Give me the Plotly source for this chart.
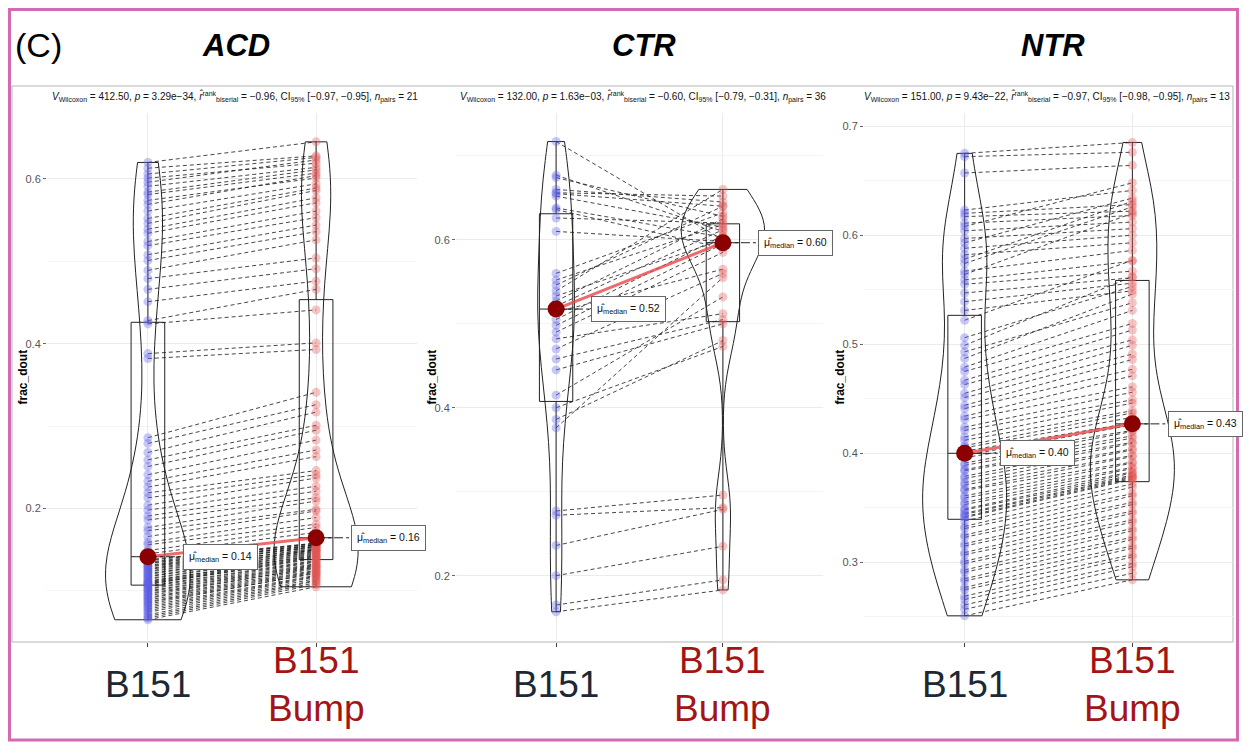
import numpy as np
import plotly.graph_objects as go

# ---------------------------------------------------------------- data
groups = ["B151", "B151 Bump"]
panels = ["ACD", "CTR", "NTR"]

acd_b151 = [
    0.620, 0.613, 0.606, 0.601, 0.596, 0.591, 0.584, 0.581, 0.574, 0.569, 0.561, 0.552,
    0.546, 0.539, 0.534, 0.524, 0.519, 0.508, 0.501, 0.489, 0.479, 0.466, 0.451, 0.428,
    0.424, 0.388, 0.382,
    0.286, 0.279, 0.268, 0.259, 0.251, 0.241, 0.233, 0.226, 0.219, 0.213, 0.204, 0.198,
    0.191, 0.186, 0.177, 0.173, 0.166, 0.159, 0.156, 0.149, 0.145,
    0.138, 0.137, 0.135, 0.134, 0.133, 0.131, 0.130, 0.129, 0.127, 0.126, 0.124, 0.123,
    0.121, 0.120, 0.118, 0.117, 0.115, 0.114, 0.112, 0.111, 0.110, 0.109, 0.108, 0.108,
    0.106, 0.105, 0.103, 0.102, 0.100, 0.099, 0.097, 0.096, 0.094, 0.092, 0.091, 0.089,
    0.087, 0.086, 0.084, 0.082, 0.080, 0.078, 0.076, 0.074, 0.071, 0.069, 0.067, 0.065,
]
acd_bump = [
    0.645, 0.628, 0.626, 0.619, 0.623, 0.614, 0.611, 0.607, 0.601, 0.604, 0.594, 0.589,
    0.586, 0.577, 0.571, 0.561, 0.553, 0.544, 0.536, 0.526, 0.504, 0.491, 0.476, 0.466,
    0.441, 0.401, 0.393,
    0.341, 0.326, 0.317, 0.301, 0.295, 0.283, 0.271, 0.263, 0.246, 0.241, 0.237, 0.227,
    0.221, 0.213, 0.209, 0.199, 0.197, 0.189, 0.181, 0.177, 0.171,
    0.158, 0.157, 0.158, 0.156, 0.155, 0.156, 0.154, 0.153, 0.154, 0.151, 0.152, 0.150,
    0.149, 0.150, 0.147, 0.148, 0.146, 0.145, 0.143, 0.144, 0.142, 0.141, 0.139, 0.140,
    0.137, 0.136, 0.135, 0.133, 0.132, 0.131, 0.130, 0.128, 0.129, 0.127, 0.125, 0.124,
    0.123, 0.121, 0.122, 0.119, 0.118, 0.117, 0.115, 0.113, 0.112, 0.110, 0.108, 0.105,
]

ctr_b151 = [
    0.277, 0.272, 0.236, 0.200, 0.165, 0.157,
    0.415, 0.400, 0.386, 0.376,
    0.717, 0.677, 0.674, 0.660, 0.656, 0.655, 0.652, 0.638, 0.636, 0.626, 0.610,
    0.445, 0.458, 0.470, 0.482, 0.490, 0.498, 0.505, 0.514, 0.521, 0.527, 0.533, 0.539,
    0.546, 0.552, 0.560,
]
ctr_bump = [
    0.296, 0.281, 0.279, 0.235, 0.195, 0.183,
    0.532, 0.473, 0.480, 0.555,
    0.600, 0.610, 0.628, 0.645, 0.652, 0.640, 0.615, 0.603, 0.590, 0.620, 0.598,
    0.500, 0.505, 0.560, 0.512, 0.585, 0.595, 0.605, 0.565, 0.612, 0.625, 0.600, 0.660,
    0.640, 0.618, 0.632,
]

ntr_b151 = [
    0.675, 0.672, 0.657, 0.623, 0.620, 0.617, 0.611, 0.608, 0.604, 0.597, 0.593, 0.588,
    0.582, 0.578, 0.574, 0.567, 0.564, 0.559, 0.555, 0.547, 0.539, 0.531,
    0.522, 0.506, 0.499, 0.493, 0.487, 0.479, 0.475, 0.467, 0.463, 0.455, 0.451, 0.444,
    0.441, 0.434, 0.431, 0.424, 0.421, 0.415, 0.412, 0.407, 0.405, 0.402,
    0.398, 0.396, 0.391, 0.389, 0.385, 0.384, 0.379, 0.377, 0.373, 0.371, 0.367, 0.366,
    0.361, 0.359, 0.355, 0.353, 0.349, 0.348, 0.345, 0.344, 0.342, 0.341,
    0.338, 0.333, 0.331, 0.325, 0.323, 0.317, 0.315, 0.309, 0.307, 0.301, 0.299, 0.293,
    0.291, 0.285, 0.283, 0.277, 0.275, 0.269, 0.266, 0.261, 0.257, 0.251,
]
ntr_bump = [
    0.685, 0.676, 0.664, 0.641, 0.628, 0.622, 0.618, 0.648, 0.612, 0.606, 0.634, 0.600,
    0.593, 0.631, 0.626, 0.586, 0.620, 0.576, 0.567, 0.561, 0.556, 0.549,
    0.577, 0.553, 0.562, 0.538, 0.546, 0.531, 0.519, 0.513, 0.504, 0.499, 0.491, 0.486,
    0.477, 0.471, 0.461, 0.456, 0.449, 0.446, 0.439, 0.437, 0.433, 0.428,
    0.426, 0.421, 0.420, 0.416, 0.414, 0.410, 0.409, 0.404, 0.403, 0.398, 0.397, 0.392,
    0.391, 0.387, 0.386, 0.383, 0.382, 0.380, 0.379, 0.378, 0.377, 0.376,
    0.372, 0.369, 0.363, 0.361, 0.355, 0.353, 0.347, 0.345, 0.339, 0.337, 0.331, 0.329,
    0.323, 0.321, 0.315, 0.313, 0.307, 0.305, 0.299, 0.296, 0.290, 0.284,
]

subtitles = [
    "<i>V</i><sub>Wilcoxon</sub> = 412.50, <i>p</i> = 3.29e−34, <i>r̂</i><sup>rank</sup><sub>biserial</sub> = −0.96, CI<sub>95%</sub> [−0.97, −0.95], <i>n</i><sub>pairs</sub> = 21",
    "<i>V</i><sub>Wilcoxon</sub> = 132.00, <i>p</i> = 1.63e−03, <i>r̂</i><sup>rank</sup><sub>biserial</sub> = −0.60, CI<sub>95%</sub> [−0.79, −0.31], <i>n</i><sub>pairs</sub> = 36",
    "<i>V</i><sub>Wilcoxon</sub> = 151.00, <i>p</i> = 9.43e−22, <i>r̂</i><sup>rank</sup><sub>biserial</sub> = −0.97, CI<sub>95%</sub> [−0.98, −0.95], <i>n</i><sub>pairs</sub> = 13",
]

# ---------------------------------------------------------------- styling / layout
y_ranges = [[0.038, 0.680], [0.121, 0.751], [0.227, 0.712]]
y_dticks = [(0.2, 0.1), (0.2, 0.1), (0.1, 0.05)]
violin_widths = [(0.5, 0.5), (0.22, 0.5), (0.5, 0.5)]

W, H = 1243, 747
SANS = "Liberation Sans, Arial, sans-serif"


def fx(px):
    return px / W


def fy(px):
    return 1 - px / H


x_domains = [(47, 417), (456, 823), (864, 1233)]
y_domain = [fy(642), fy(113)]

fig = go.Figure()
annotations = []

datasets = [(acd_b151, acd_bump), (ctr_b151, ctr_bump), (ntr_b151, ntr_bump)]
pos = [1, 2]
pt_colors = ["rgba(95,95,235,0.35)", "rgba(225,85,85,0.35)"]


def nrd0(v):
    v = np.asarray(v)
    iqr = np.subtract(*np.percentile(v, [75, 25]))
    return 0.9 * min(v.std(ddof=1), iqr / 1.34) * len(v) ** -0.2


for k, (name, (a, b)) in enumerate(zip(panels, datasets)):
    sfx = "" if k == 0 else str(k + 1)
    xa, ya = "x" + sfx, "y" + sfx
    vals = [a, b]

    # violins (trimmed to the data range)
    for g in range(2):
        fig.add_trace(go.Violin(
            x0=pos[g], y=vals[g], orientation="v", width=violin_widths[k][g],
            scalegroup=name, scalemode="width", spanmode="hard",
            bandwidth=nrd0(vals[g]), points=False,
            box_visible=False, meanline_visible=False,
            line=dict(color="#222222", width=1), fillcolor="rgba(0,0,0,0)",
            xaxis=xa, yaxis=ya, hoverinfo="skip", showlegend=False,
        ))
    # boxes
    for g in range(2):
        fig.add_trace(go.Box(
            x0=pos[g], y=vals[g], width=0.2, boxpoints=False, whiskerwidth=0,
            quartilemethod="inclusive",
            line=dict(color="#222222", width=1), fillcolor="rgba(0,0,0,0)",
            xaxis=xa, yaxis=ya, hoverinfo="skip", showlegend=False,
        ))
    # paired dashed lines
    lx, ly = [], []
    for u, v in zip(a, b):
        lx += [pos[0], pos[1], None]
        ly += [u, v, None]
    fig.add_trace(go.Scatter(
        x=lx, y=ly, mode="lines",
        line=dict(color="rgba(25,25,25,0.8)", width=1, dash="4px,3px"),
        xaxis=xa, yaxis=ya, hoverinfo="skip", showlegend=False,
    ))
    # points
    for g in range(2):
        fig.add_trace(go.Scatter(
            x=[pos[g]] * len(vals[g]), y=vals[g], mode="markers",
            marker=dict(size=9, color=pt_colors[g], line=dict(width=0)),
            xaxis=xa, yaxis=ya, hoverinfo="skip", showlegend=False,
        ))
    # medians
    med = [float(np.median(v)) for v in vals]
    fig.add_trace(go.Scatter(
        x=pos, y=med, mode="lines",
        line=dict(color="rgba(235,70,70,0.8)", width=3),
        xaxis=xa, yaxis=ya, hoverinfo="skip", showlegend=False,
    ))
    for g in range(2):
        fig.add_trace(go.Scatter(
            x=[pos[g], pos[g] + 0.21], y=[med[g], med[g]], mode="lines",
            line=dict(color="#222222", width=1, dash="dashdot"),
            xaxis=xa, yaxis=ya, hoverinfo="skip", showlegend=False,
        ))
        annotations.append(dict(
            x=pos[g] + 0.21, y=med[g], xref=xa, yref=ya, xanchor="left", yanchor="middle",
            text=f"μ̂<sub>median</sub> = {med[g]:.2f}", showarrow=False,
            font=dict(family=SANS, size=10.5, color="#111111"),
            bgcolor="white", bordercolor="#666666", borderwidth=1, borderpad=5,
        ))
    fig.add_trace(go.Scatter(
        x=pos, y=med, mode="markers",
        marker=dict(size=17, color="#8b0000", line=dict(width=0)),
        xaxis=xa, yaxis=ya, hoverinfo="skip", showlegend=False,
    ))

    # axes
    x0, x1 = x_domains[k]
    dt, mdt = y_dticks[k]
    fig.update_layout({
        "xaxis" + sfx: dict(
            domain=[fx(x0), fx(x1)], range=[0.4, 2.6], anchor=ya,
            tickvals=pos, showticklabels=False, ticks="outside", ticklen=4,
            tickcolor="#444444", showgrid=True, gridcolor="#ebebeb", gridwidth=1,
            zeroline=False, showline=False, fixedrange=True,
        ),
        "yaxis" + sfx: dict(
            domain=y_domain, range=y_ranges[k], anchor=xa,
            tick0=0, dtick=dt, tickformat=".1f", ticks="outside", ticklen=3,
            tickcolor="#666666", tickfont=dict(family=SANS, size=11, color="#555555"),
            showgrid=True, gridcolor="#ebebeb", gridwidth=1,
            minor=dict(dtick=mdt, tick0=0, showgrid=True, gridcolor="#f4f4f4", ticks=""),
            zeroline=False, showline=False, fixedrange=True,
        ),
    })

    cx = (x0 + x1) / 2
    # panel title
    annotations.append(dict(
        x=fx(cx + 4), y=fy(46), xref="paper", yref="paper", xanchor="center", yanchor="middle",
        text=f"<b><i>{name}</i></b>", showarrow=False,
        font=dict(family=SANS, size=31, color="#000000"),
    ))
    # statistics subtitle
    if k < 2:
        annotations.append(dict(
            x=fx(cx + 3), y=fy(96), xref="paper", yref="paper", xanchor="center", yanchor="middle",
            text=subtitles[k], showarrow=False,
            font=dict(family=SANS, size=10, color="#111111"),
        ))
    else:
        annotations.append(dict(
            x=fx(1232), y=fy(96), xref="paper", yref="paper", xanchor="right", yanchor="middle",
            text=subtitles[k], showarrow=False,
            font=dict(family=SANS, size=10, color="#111111"),
        ))
    # y-axis title
    annotations.append(dict(
        x=fx(x0 - 25), y=(y_domain[0] + y_domain[1]) / 2, xref="paper", yref="paper",
        xanchor="center", yanchor="middle", textangle=-90,
        text="<b>frac_dout</b>", showarrow=False,
        font=dict(family=SANS, size=12, color="#000000"),
    ))
    # group labels under the axis
    annotations.append(dict(
        x=pos[0], y=fy(684), xref=xa, yref="paper", xanchor="center", yanchor="middle",
        text=groups[0], showarrow=False,
        font=dict(family=SANS, size=37, color="#1c2833"),
    ))
    annotations.append(dict(
        x=pos[1], y=fy(684), xref=xa, yref="paper", xanchor="center", yanchor="middle",
        text=groups[1].replace(" ", "<br>"), showarrow=False,
        font=dict(family=SANS, size=37, color="#a31515"),
    ))

# panel tag
annotations.append(dict(
    x=fx(38), y=fy(45), xref="paper", yref="paper", xanchor="center", yanchor="middle",
    text="(C)", showarrow=False, font=dict(family=SANS, size=34, color="#000000"),
))

shapes = [
    dict(type="rect", xref="paper", yref="paper", x0=fx(12), x1=fx(1233), y0=fy(642), y1=fy(86),
         line=dict(color="#b5b5b5", width=1), fillcolor="rgba(0,0,0,0)", layer="below"),
    dict(type="rect", xref="paper", yref="paper", x0=fx(9.5), x1=fx(1237.5), y0=fy(740), y1=fy(9.5),
         line=dict(color="#d46ab2", width=3), fillcolor="rgba(0,0,0,0)"),
]

fig.update_layout(
    width=W, height=H, margin=dict(l=0, r=0, t=0, b=0),
    paper_bgcolor="white", plot_bgcolor="white",
    showlegend=False, violinmode="overlay", boxmode="overlay",
    annotations=annotations, shapes=shapes,
    font=dict(family=SANS),
)

fig.write_html("out.html")
